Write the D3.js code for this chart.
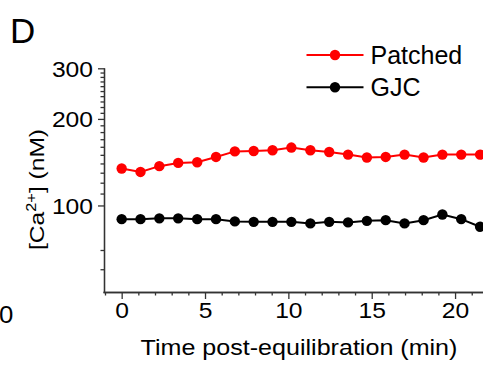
<!DOCTYPE html>
<html><head><meta charset="utf-8">
<script src="https://cdn.jsdelivr.net/npm/d3@7"></script>
<style>
html,body{margin:0;padding:0;background:#fff;}
svg{display:block;font-family:Arial,"Liberation Sans",Helvetica,sans-serif;}
</style></head>
<body>
<svg id="c" width="483" height="367"></svg>
<script>
// ---- data ----
const times = [0,1.13,2.26,3.39,4.53,5.66,6.79,7.92,9.05,10.18,11.32,12.45,13.58,14.71,15.84,16.97,18.11,19.24,20.37,21.5];
const patched = [134.4,130.8,137,140.6,141.4,147.5,154.2,154.7,155.6,159,155.6,153.5,150.3,146.8,147.5,150.3,146.8,150.3,150.3,150.3];
const gjc = [89.6,89.6,90.2,90.2,89.6,89.6,88,87.7,87.7,87.7,86.6,87.7,87.3,88.4,88.9,86.6,88.9,93,89.6,84.3];
const seriesNames = ["Patched","GJC"];
const seriesColors = ["#ff0000","#000000"];
const xMajorTicks = [0,5,10,15,20];
const xMinorTicks = [-1,1,2,3,4,6,7,8,9,11,12,13,14,16,17,18,19,21];
const yMajorTicks = [100,200,300];
const yMinorTicks = [60,70,110,120,130,140,150,160,170,180,190,210,220,230,240,250,260,270,280,290];

const svg = d3.select("#c");
const x = d3.scaleLinear().domain([-1,22]).range([105,488.4]);
const y = d3.scaleLog().domain([50,300]).range([292,68.3]);
const axisColor = "#333";

function stretch(sel, f){
  sel.each(function(){
    const L = this.getComputedTextLength();
    d3.select(this).attr("textLength", L*f).attr("lengthAdjust","spacingAndGlyphs");
  });
}

// X axis
const gx = svg.append("g").attr("transform","translate(0,292)");
gx.call(d3.axisBottom(x).tickValues(xMinorTicks).tickSize(3.5).tickFormat(""));
gx.append("g").call(d3.axisBottom(x).tickValues(xMajorTicks).tickSize(7).tickPadding(4).tickFormat(d3.format("d")));
gx.selectAll("path.domain").attr("d","M103.5,0.5H490");
gx.selectAll("path,line").attr("stroke",axisColor).attr("stroke-width",1.3);
gx.selectAll("text").attr("font-size",22).attr("fill","#000").attr("font-family","Arial, 'Liberation Sans', sans-serif").attr("dy","0.71em").attr("y",10);
stretch(gx.selectAll("text"),1.12);

// Y axis
const gy = svg.append("g").attr("transform","translate(104,0)");
gy.call(d3.axisLeft(y).tickValues(yMinorTicks).tickSize(3.5).tickFormat(""));
gy.append("g").call(d3.axisLeft(y).tickValues(yMajorTicks).tickSize(6).tickPadding(5).tickFormat(d3.format("d")));
gy.selectAll("path.domain").attr("d","M0.5,"+y(300)+"V292");
gy.selectAll("path,line").attr("stroke",axisColor).attr("stroke-width",1.3);
gy.selectAll("text").attr("font-size",22).attr("fill","#000").attr("font-family","Arial, 'Liberation Sans', sans-serif").attr("dy","0.36em");
stretch(gy.selectAll("text"),1.12);

// lines + markers
const data = [patched, gjc];
data.forEach((vals,i)=>{
  const pts = vals.map((v,j)=>[times[j],v]);
  svg.append("path").datum(pts)
    .attr("fill","none").attr("stroke",seriesColors[i]).attr("stroke-width",2)
    .attr("d",d3.line().x(d=>x(d[0])).y(d=>y(d[1])));
  svg.append("g").selectAll("circle").data(pts).join("circle")
    .attr("cx",d=>x(d[0])).attr("cy",d=>y(d[1])).attr("r",5.2)
    .attr("fill",seriesColors[i]);
});

// legend
const legY = [55,87.3];
seriesNames.forEach((n,i)=>{
  const g = svg.append("g");
  g.append("line").attr("x1",306.5).attr("x2",363.5).attr("y1",legY[i]).attr("y2",legY[i])
    .attr("stroke",seriesColors[i]).attr("stroke-width",2);
  g.append("circle").attr("cx",335).attr("cy",legY[i]).attr("r",5.2).attr("fill",seriesColors[i]);
  g.append("text").attr("x",370.5).attr("y",legY[i]+9).attr("font-size",25).attr("fill","#000").text(n);
});

// axis titles
const xt = svg.append("text").attr("x",299).attr("y",355).attr("text-anchor","middle")
  .attr("font-size",22).attr("fill","#000").text("Time post-equilibration (min)");
stretch(xt,1.14);

const yt = svg.append("g").attr("transform","translate(44,250) rotate(-90) scale(1.17,1)")
  .append("text").attr("x",0).attr("y",0).attr("font-size",21).attr("fill","#000");
yt.append("tspan").text("[Ca");
yt.append("tspan").attr("font-size",14).attr("dy",-8).text("2+");
yt.append("tspan").attr("dy",8).text("] (nM)");

// panel letter and stray label
svg.append("text").attr("x",10).attr("y",43).attr("font-size",35).attr("fill","#000").text("D");
const z = svg.append("text").attr("x",-1).attr("y",323).attr("font-size",23).attr("fill","#000").text("0");
stretch(z,1.12);
</script>
</body></html>
